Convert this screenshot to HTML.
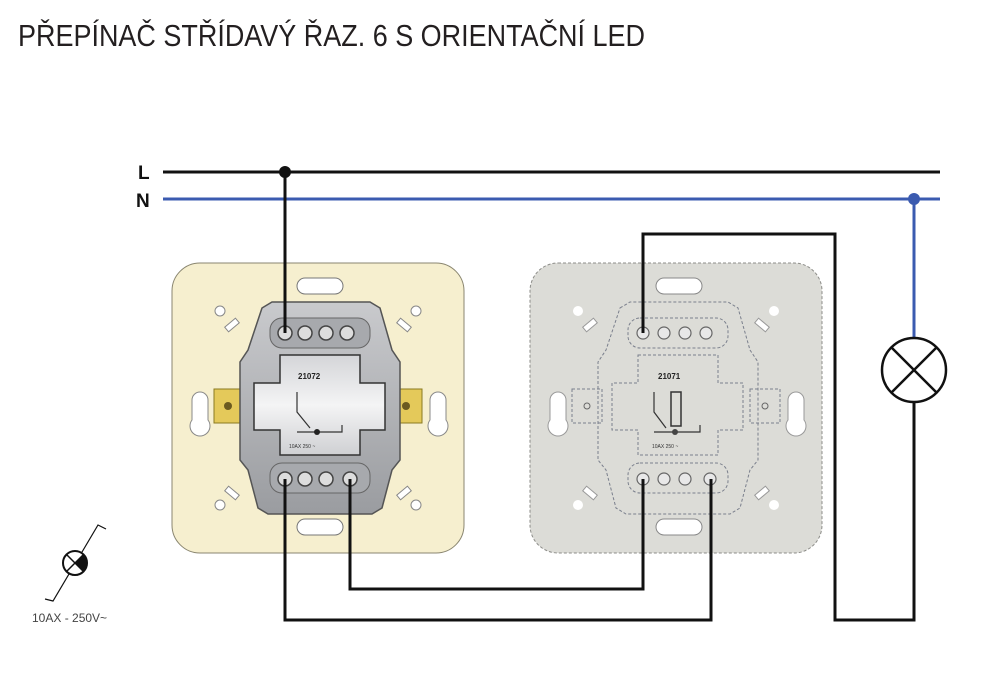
<!DOCTYPE html>
<html><head><meta charset="utf-8"><style>
html,body{margin:0;padding:0;background:#fff;width:1000px;height:679px;overflow:hidden}
svg{display:block}
</style></head><body>
<svg width="1000" height="679" viewBox="0 0 1000 679" xmlns="http://www.w3.org/2000/svg">
<defs>
<linearGradient id="mg" x1="0" y1="0" x2="0" y2="1">
<stop offset="0" stop-color="#c9cacd"/><stop offset="1" stop-color="#9a9ca0"/></linearGradient>
<linearGradient id="cg" x1="0" y1="0" x2="0" y2="1">
<stop offset="0" stop-color="#d4d5d8"/><stop offset="0.5" stop-color="#f4f4f5"/><stop offset="1" stop-color="#cfd0d3"/></linearGradient>
</defs>
<text x="18" y="46" font-family="'Liberation Sans Narrow','Liberation Sans',sans-serif" font-size="31" fill="#231f20" textLength="627" lengthAdjust="spacingAndGlyphs">PŘEPÍNAČ STŘÍDAVÝ ŘAZ. 6 S ORIENTAČNÍ LED</text>

<!-- Plate 1 -->
<g>
<rect x="172" y="263" width="292" height="290" rx="28" fill="#f6efcf" stroke="#8a8670" stroke-width="1"/>
<rect x="297" y="278" width="46" height="16" rx="8" fill="#fff" stroke="#777"/>
<rect x="297" y="519" width="46" height="16" rx="8" fill="#fff" stroke="#777"/>
<path d="M192,400 a8,8 0 0 1 16,0 v20 a10,10 0 1 1 -16,0 z" fill="#fff" stroke="#888"/>
<path d="M430,400 a8,8 0 0 1 16,0 v20 a10,10 0 1 1 -16,0 z" fill="#fff" stroke="#888"/>
<circle cx="220" cy="311" r="5" fill="#fff" stroke="#888"/>
<circle cx="416" cy="311" r="5" fill="#fff" stroke="#888"/>
<circle cx="220" cy="505" r="5" fill="#fff" stroke="#888"/>
<circle cx="416" cy="505" r="5" fill="#fff" stroke="#888"/>
<rect x="225" y="322" width="14" height="6" fill="#fff" stroke="#888" transform="rotate(-40 232 325)"/>
<rect x="397" y="322" width="14" height="6" fill="#fff" stroke="#888" transform="rotate(40 404 325)"/>
<rect x="225" y="490" width="14" height="6" fill="#fff" stroke="#888" transform="rotate(40 232 493)"/>
<rect x="397" y="490" width="14" height="6" fill="#fff" stroke="#888" transform="rotate(-40 404 493)"/>
<rect x="214" y="389" width="30" height="34" fill="#e4c95a" stroke="#8a7a20"/>
<circle cx="228" cy="406" r="4" fill="#6b5a20"/>
<rect x="392" y="389" width="30" height="34" fill="#e4c95a" stroke="#8a7a20"/>
<circle cx="406" cy="406" r="4" fill="#6b5a20"/>
<path d="M262,308 L272,302 H370 L380,308 L392,350 L400,362 V460 L392,470 L382,508 L372,514 H268 L258,508 L248,470 L240,460 V362 L248,350 Z" fill="url(#mg)" stroke="#555" stroke-width="1.5"/>
<rect x="270" y="318" width="100" height="30" rx="12" fill="#a7a9ad" stroke="#666"/>
<rect x="270" y="463" width="100" height="30" rx="12" fill="#a7a9ad" stroke="#666"/>
<path d="M280,355 H360 V383 H385 V430 H360 V455 H280 V430 H254 V383 H280 Z" fill="url(#cg)" stroke="#333" stroke-width="1.5"/>
<text x="298" y="379" font-family="Liberation Sans,sans-serif" font-size="8" font-weight="bold" fill="#222">21072</text>
<path d="M297,392 V412 L310,428 M297,432 H342 V425" fill="none" stroke="#333" stroke-width="1.2"/>
<circle cx="317" cy="432" r="3" fill="#222"/>
<text x="289" y="448" font-family="Liberation Sans,sans-serif" font-size="5" fill="#333">10AX 250 ~</text>
<g fill="#ddd" stroke="#444" stroke-width="1.5">
<circle cx="285" cy="333" r="7"/><circle cx="305" cy="333" r="7"/><circle cx="326" cy="333" r="7"/><circle cx="347" cy="333" r="7"/>
<circle cx="285" cy="479" r="7"/><circle cx="305" cy="479" r="7"/><circle cx="326" cy="479" r="7"/><circle cx="350" cy="479" r="7"/>
</g>
</g>

<!-- Plate 2 -->
<g>
<rect x="530" y="263" width="292" height="290" rx="28" fill="#dcdcd7" stroke="#8c8c88" stroke-width="1" stroke-dasharray="3,2"/>
<rect x="656" y="278" width="46" height="16" rx="8" fill="#fff" stroke="#888"/>
<rect x="656" y="519" width="46" height="16" rx="8" fill="#fff" stroke="#888"/>
<path d="M550,400 a8,8 0 0 1 16,0 v20 a10,10 0 1 1 -16,0 z" fill="#fff" stroke="#999"/>
<path d="M788,400 a8,8 0 0 1 16,0 v20 a10,10 0 1 1 -16,0 z" fill="#fff" stroke="#999"/>
<circle cx="578" cy="311" r="5" fill="#fff"/><circle cx="774" cy="311" r="5" fill="#fff"/>
<circle cx="578" cy="505" r="5" fill="#fff"/><circle cx="774" cy="505" r="5" fill="#fff"/>
<rect x="583" y="322" width="14" height="6" fill="#fff" stroke="#999" transform="rotate(-40 590 325)"/>
<rect x="755" y="322" width="14" height="6" fill="#fff" stroke="#999" transform="rotate(40 762 325)"/>
<rect x="583" y="490" width="14" height="6" fill="#fff" stroke="#999" transform="rotate(40 590 493)"/>
<rect x="755" y="490" width="14" height="6" fill="#fff" stroke="#999" transform="rotate(-40 762 493)"/>
<g fill="none" stroke="#7a7f8c" stroke-width="1" stroke-dasharray="3,2">
<rect x="572" y="389" width="30" height="34"/><rect x="750" y="389" width="30" height="34"/>
<path d="M620,308 L630,302 H728 L738,308 L750,350 L758,362 V460 L750,470 L740,508 L730,514 H626 L616,508 L606,470 L598,460 V362 L606,350 Z"/>
<rect x="628" y="318" width="100" height="30" rx="12"/>
<rect x="628" y="463" width="100" height="30" rx="12"/>
<path d="M638,355 H718 V383 H743 V430 H718 V455 H638 V430 H612 V383 H638 Z"/>
</g>
<circle cx="587" cy="406" r="3" fill="none" stroke="#666"/><circle cx="765" cy="406" r="3" fill="none" stroke="#666"/>
<text x="658" y="379" font-family="Liberation Sans,sans-serif" font-size="8" font-weight="bold" fill="#222">21071</text>
<path d="M654,392 V412 L666,428 M654,432 H700 V425" fill="none" stroke="#333" stroke-width="1.2"/>
<rect x="671" y="392" width="10" height="34" fill="none" stroke="#333" stroke-width="1.5"/>
<circle cx="675" cy="432" r="3" fill="#444"/>
<text x="652" y="448" font-family="Liberation Sans,sans-serif" font-size="5" fill="#333">10AX 250 ~</text>
<g fill="#e8e8e8" stroke="#666" stroke-width="1.2">
<circle cx="643" cy="333" r="6"/><circle cx="664" cy="333" r="6"/><circle cx="685" cy="333" r="6"/><circle cx="706" cy="333" r="6"/>
<circle cx="643" cy="479" r="6"/><circle cx="664" cy="479" r="6"/><circle cx="685" cy="479" r="6"/><circle cx="710" cy="479" r="6"/>
</g>
</g>

<!-- Wires -->
<text x="138" y="179" font-family="Liberation Sans,sans-serif" font-size="19" font-weight="bold" fill="#111">L</text>
<text x="136" y="207" font-family="Liberation Sans,sans-serif" font-size="19" font-weight="bold" fill="#111">N</text>
<line x1="163" y1="172" x2="940" y2="172" stroke="#111" stroke-width="3"/>
<line x1="163" y1="199" x2="940" y2="199" stroke="#3b5bb0" stroke-width="3"/>
<circle cx="285" cy="172" r="6" fill="#111"/>
<circle cx="914" cy="199" r="6" fill="#3b5bb0"/>
<line x1="914" y1="199" x2="914" y2="338" stroke="#3b5bb0" stroke-width="3"/>
<circle cx="914" cy="370" r="32" fill="#fff" stroke="#111" stroke-width="2.5"/>
<path d="M891,347 L937,393 M937,347 L891,393" stroke="#111" stroke-width="2.5"/>
<g fill="none" stroke="#111" stroke-width="3">
<path d="M285,172 V333"/>
<path d="M914,402 V620 H835 V234 H643 V333"/>
<path d="M285,479 V620 H711 V479"/>
<path d="M350,479 V589 H643 V479"/>
</g>

<!-- legend -->
<path d="M45,599 L53,601 L98,525 L106,529" fill="none" stroke="#111" stroke-width="1.2"/>
<circle cx="75" cy="563" r="12" fill="#fff" stroke="#111" stroke-width="2"/>
<path d="M75,563 L83.5,554.5 A12,12 0 0 1 83.5,571.5 Z" fill="#111"/>
<path d="M66.5,554.5 L83.5,571.5 M83.5,554.5 L66.5,571.5" stroke="#111" stroke-width="1.5"/>
<text x="32" y="622" font-family="Liberation Sans,sans-serif" font-size="12" fill="#444">10AX - 250V~</text>
</svg>
</body></html>
